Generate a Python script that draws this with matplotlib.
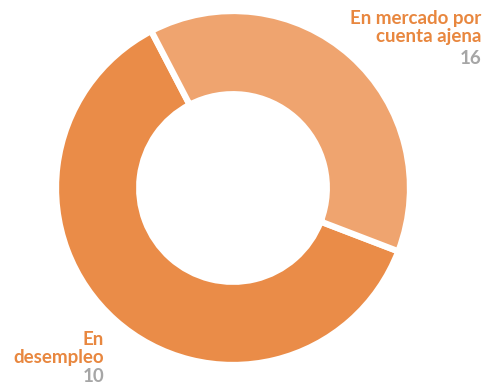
import matplotlib
matplotlib.use("Agg")
import matplotlib.pyplot as plt

categories = ["En mercado por\ncuenta ajena", "En desempleo"]
values = [16, 10]
value_labels = ["16", "10"]
slice_colors = ["#EA8C48", "#EFA46F"]
label_color = "#E8873F"
value_color = "#A6A6A6"

W, H = 485, 387
fig = plt.figure(figsize=(W / 100, H / 100), dpi=100)
fig.patch.set_facecolor("white")

cx, cy, r = 233, 188, 177
ax = fig.add_axes([(cx - r) / W, (H - cy - r) / H, 2 * r / W, 2 * r / H])
ax.pie(values, colors=slice_colors, startangle=117.5, counterclock=True,
       radius=1.0,
       wedgeprops=dict(width=0.47, edgecolor="white", linewidth=4.5))
ax.set_xlim(-1, 1)
ax.set_ylim(-1, 1)
ax.set_aspect("equal")
ax.axis("off")

font = dict(family="Lato", weight="bold", fontsize=13.5)

def px(x, y):
    return x / W, 1 - y / H

# category label and value, top right
fig.text(*px(481, 10), categories[0], color=label_color,
         ha="right", va="top", linespacing=1.05, **font)
fig.text(*px(481, 50), value_labels[0], color=value_color,
         ha="right", va="top", **font)

# category label and value, bottom left
fig.text(*px(104, 331), "En\ndesempleo", color=label_color,
         ha="right", va="top", linespacing=1.05, **font)
fig.text(*px(104, 382), value_labels[1], color=value_color,
         ha="right", va="baseline", **font)

fig.savefig("out.png", dpi=100, facecolor="white")
